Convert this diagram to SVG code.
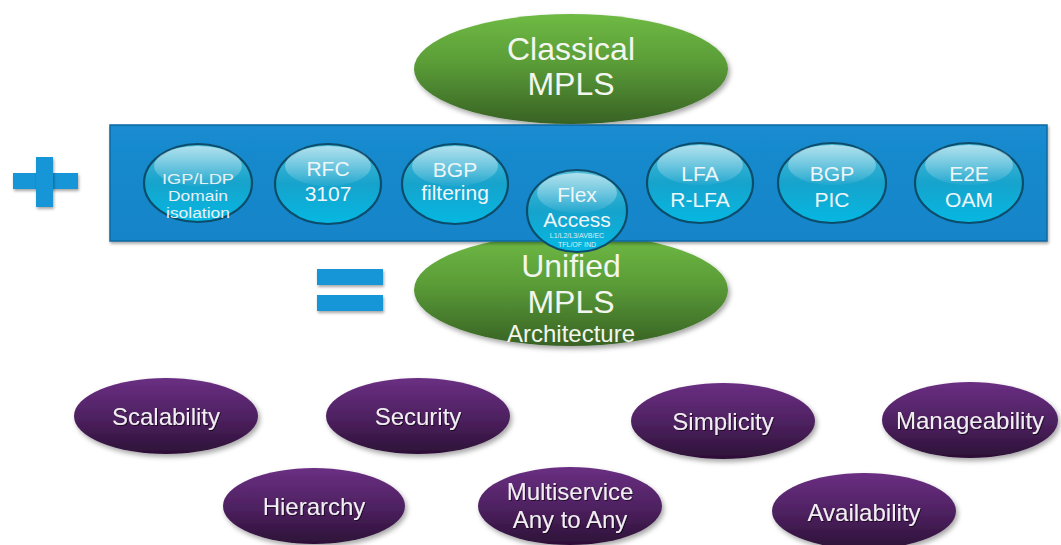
<svg xmlns="http://www.w3.org/2000/svg" width="1061" height="545" viewBox="0 0 1061 545">
  <defs>
    <linearGradient id="gGreen" x1="0" y1="0" x2="0" y2="1">
      <stop offset="0" stop-color="#6fba45"/>
      <stop offset="0.45" stop-color="#5a9c37"/>
      <stop offset="1" stop-color="#386224"/>
    </linearGradient>
    <linearGradient id="gPurple" x1="0" y1="0" x2="0" y2="1">
      <stop offset="0" stop-color="#6a2f82"/>
      <stop offset="0.5" stop-color="#4f2262"/>
      <stop offset="1" stop-color="#2c1036"/>
    </linearGradient>
    <linearGradient id="gCyan" x1="0" y1="0" x2="0" y2="1">
      <stop offset="0" stop-color="#4fbcd8"/>
      <stop offset="0.5" stop-color="#16a3cc"/>
      <stop offset="1" stop-color="#05b8e2"/>
    </linearGradient>
    <linearGradient id="gGloss" x1="0" y1="0" x2="0" y2="1">
      <stop offset="0" stop-color="#ffffff" stop-opacity="0.55"/>
      <stop offset="1" stop-color="#ffffff" stop-opacity="0.05"/>
    </linearGradient>
    <linearGradient id="gBar" x1="0" y1="0" x2="0" y2="1">
      <stop offset="0" stop-color="#1a8bcf"/>
      <stop offset="1" stop-color="#1684c8"/>
    </linearGradient>
    <filter id="shadow" x="-20%" y="-20%" width="140%" height="150%">
      <feDropShadow dx="2" dy="3" stdDeviation="2.5" flood-color="#000" flood-opacity="0.35"/>
    </filter>
    <filter id="softShadow" x="-20%" y="-20%" width="140%" height="150%">
      <feDropShadow dx="1" dy="2" stdDeviation="1.5" flood-color="#000" flood-opacity="0.35"/>
    </filter>
    <filter id="txtShadow" x="-10%" y="-20%" width="120%" height="150%">
      <feDropShadow dx="1" dy="1" stdDeviation="0.6" flood-color="#000" flood-opacity="0.6"/>
    </filter>
  </defs>
  <style>
    text { font-family: "Liberation Sans", Arial, sans-serif; text-anchor: middle; }
    .green { fill: url(#gGreen); filter: url(#shadow); }
    .purple { fill: url(#gPurple); filter: url(#shadow); }
    .cyan { fill: url(#gCyan); stroke: #0c4d6c; stroke-width: 2.2; }
    .gloss { fill: url(#gGloss); }
    .tGreen { fill: #f2f6ee; font-size: 32px; }
    .tArch { fill: #f2f6ee; font-size: 24px; }
    .tPurple { fill: #f1edf2; font-size: 24px; filter: url(#txtShadow); }
    .tCyan { fill: #eef6f9; font-size: 21px; }
    .tCyanS { fill: #e6f1f5; font-size: 15.5px; }
    .tTiny { fill: #d8eef6; font-size: 7px; }
    .sym { fill: #1296d6; filter: url(#softShadow); }
  </style>

  <rect width="1061" height="545" fill="#ffffff"/>

  <g id="classical-mpls">
    <ellipse class="green" cx="571" cy="69" rx="157" ry="55"/>
    <text class="tGreen" x="571" y="60">Classical</text>
    <text class="tGreen" x="571" y="95">MPLS</text>
  </g>

  <g id="unified-mpls">
    <ellipse class="green" cx="571" cy="290" rx="157" ry="56"/>
  </g>

  <g id="plus-sign">
    <rect class="sym" x="13" y="173" width="65" height="16"/>
    <rect class="sym" x="36" y="157" width="17" height="50"/>
  </g>

  <g id="equals-sign">
    <rect class="sym" x="317" y="269" width="66" height="16"/>
    <rect class="sym" x="317" y="295" width="66" height="16"/>
  </g>

  <g id="feature-bar">
    <rect x="110" y="125" width="937" height="116" fill="url(#gBar)" stroke="#0e6aa3" stroke-width="1.5" filter="url(#softShadow)"/>
  </g>

  <g id="unified-mpls-text">
    <text class="tGreen" x="571" y="277">Unified</text>
    <text class="tGreen" x="571" y="313">MPLS</text>
    <text class="tArch" x="571" y="342">Architecture</text>
  </g>

  <g id="igp-ldp">
    <ellipse class="cyan" cx="198" cy="183" rx="54" ry="39"/>
    <ellipse class="gloss" cx="198" cy="166" rx="44" ry="20"/>
    <text class="tCyanS" x="198" y="184" textLength="72" lengthAdjust="spacingAndGlyphs">IGP/LDP</text>
    <text class="tCyanS" x="198" y="201" textLength="60" lengthAdjust="spacingAndGlyphs">Domain</text>
    <text class="tCyanS" x="198" y="218" textLength="64" lengthAdjust="spacingAndGlyphs">isolation</text>
  </g>

  <g id="rfc-3107">
    <ellipse class="cyan" cx="328" cy="184" rx="53" ry="40"/>
    <ellipse class="gloss" cx="328" cy="166" rx="43" ry="20"/>
    <text class="tCyan" x="328" y="176">RFC</text>
    <text class="tCyan" x="328" y="201">3107</text>
  </g>

  <g id="bgp-filtering">
    <ellipse class="cyan" cx="455" cy="184" rx="53" ry="40"/>
    <ellipse class="gloss" cx="455" cy="166" rx="43" ry="20"/>
    <text class="tCyan" x="455" y="177">BGP</text>
    <text class="tCyan" x="455" y="200">filtering</text>
  </g>

  <g id="flex-access">
    <ellipse class="cyan" cx="577" cy="211" rx="50" ry="41"/>
    <ellipse class="gloss" cx="577" cy="193" rx="40" ry="20"/>
    <text class="tCyan" x="577" y="202" font-size="22">Flex</text>
    <text class="tCyan" x="577" y="227" font-size="22">Access</text>
    <text class="tTiny" x="577" y="238">L1/L2/L3/AVB/EC</text>
    <text class="tTiny" x="577" y="247">TFL/OF IND</text>
  </g>

  <g id="lfa-rlfa">
    <ellipse class="cyan" cx="700" cy="183" rx="53" ry="40"/>
    <ellipse class="gloss" cx="700" cy="165" rx="43" ry="20"/>
    <text class="tCyan" x="700" y="181">LFA</text>
    <text class="tCyan" x="700" y="207">R-LFA</text>
  </g>

  <g id="bgp-pic">
    <ellipse class="cyan" cx="832" cy="183" rx="54" ry="40"/>
    <ellipse class="gloss" cx="832" cy="165" rx="44" ry="20"/>
    <text class="tCyan" x="832" y="181">BGP</text>
    <text class="tCyan" x="832" y="207">PIC</text>
  </g>

  <g id="e2e-oam">
    <ellipse class="cyan" cx="969" cy="183" rx="54" ry="40"/>
    <ellipse class="gloss" cx="969" cy="165" rx="44" ry="20"/>
    <text class="tCyan" x="969" y="181">E2E</text>
    <text class="tCyan" x="969" y="207">OAM</text>
  </g>

  <g id="scalability">
    <ellipse class="purple" cx="166" cy="416" rx="92" ry="38"/>
    <text class="tPurple" x="166" y="425">Scalability</text>
  </g>

  <g id="security">
    <ellipse class="purple" cx="418" cy="416" rx="92" ry="38"/>
    <text class="tPurple" x="418" y="425">Security</text>
  </g>

  <g id="simplicity">
    <ellipse class="purple" cx="723" cy="421" rx="92" ry="38"/>
    <text class="tPurple" x="723" y="430">Simplicity</text>
  </g>

  <g id="manageability">
    <ellipse class="purple" cx="970" cy="420" rx="88" ry="38"/>
    <text class="tPurple" x="970" y="429">Manageability</text>
  </g>

  <g id="hierarchy">
    <ellipse class="purple" cx="314" cy="506" rx="91" ry="38"/>
    <text class="tPurple" x="314" y="515">Hierarchy</text>
  </g>

  <g id="multiservice">
    <ellipse class="purple" cx="570" cy="506" rx="92" ry="39"/>
    <text class="tPurple" x="570" y="500">Multiservice</text>
    <text class="tPurple" x="570" y="528">Any to Any</text>
  </g>

  <g id="availability">
    <ellipse class="purple" cx="864" cy="511" rx="92" ry="38"/>
    <text class="tPurple" x="864" y="521">Availability</text>
  </g>

  <g id="connectors"/>
</svg>
